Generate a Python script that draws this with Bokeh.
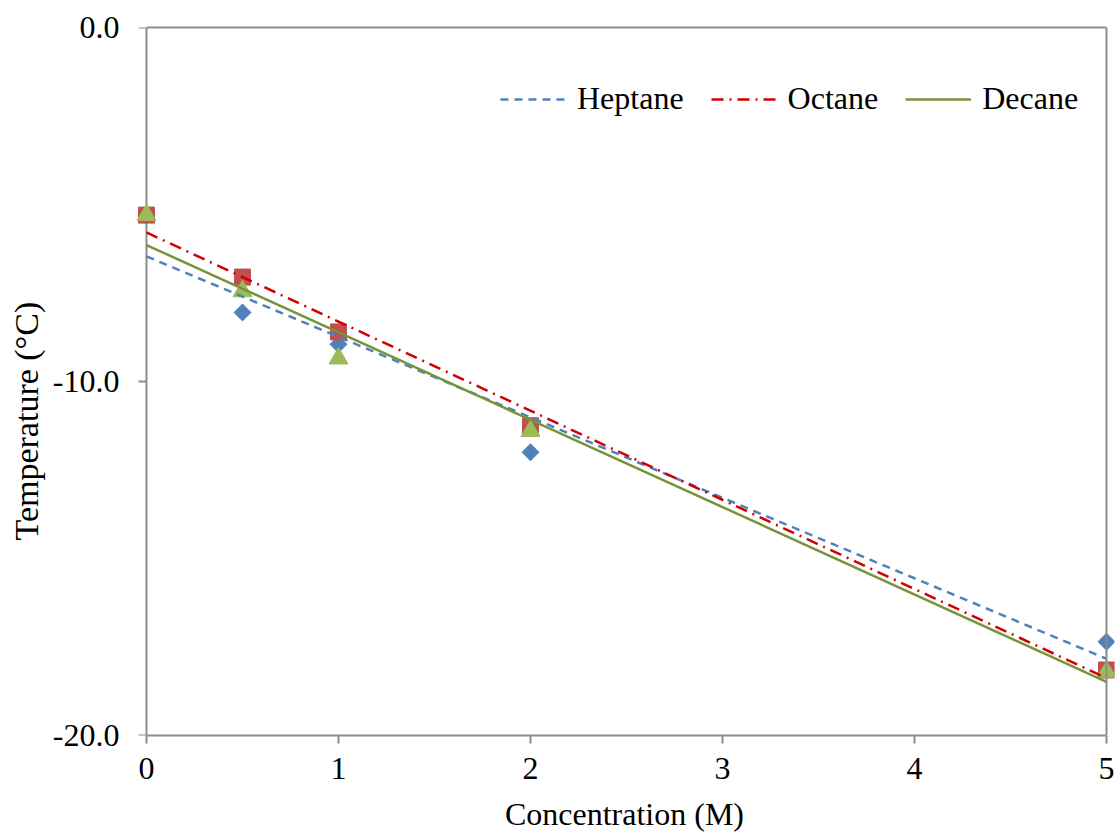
import numpy as np
from bokeh.plotting import figure
from bokeh.models import (Range1d, FixedTicker, NumeralTickFormatter, Legend, LegendItem,
                          LinearAxis, Title)
from bokeh.embed import file_html
from bokeh.resources import INLINE

# Data
conc = [0, 0.5, 1, 2, 5]
heptane = [-5.3, -8.05, -8.95, -12.0, -17.35]
octane = [-5.3, -7.05, -8.6, -11.25, -18.15]
decane = [-5.3, -7.45, -9.35, -11.4, -18.2]
x_ticks = [0, 1, 2, 3, 4, 5]
y_ticks = [-20, -10, 0]
x_label = "Concentration (M)"
y_label = "Temperature (°C)"

FONT = "Liberation Serif"
AX = "#8c8c8c"
X0, X1 = 0, 5
Y0, Y1 = -20, 0
PXU = 192.2                     # pixels per x unit
PADL, PADR = 12 / PXU, 8 / PXU  # room so edge markers are not clipped
TICK = 8 / PXU

p = figure(width=1116, height=835, output_backend="svg", toolbar_location=None,
           x_range=Range1d(X0 - PADL, X1 + PADR), y_range=Range1d(Y0, Y1),
           min_border_left=133, min_border_right=2, min_border_top=27, min_border_bottom=100)
p.grid.visible = False
p.outline_line_color = None
p.background_fill_color = "white"
p.border_fill_color = "white"

def style(ax):
    ax.axis_line_color = AX
    ax.axis_line_width = 2
    ax.major_tick_line_color = AX
    ax.major_tick_line_width = 2
    ax.major_tick_out = 8
    ax.major_tick_in = 0
    ax.minor_tick_line_color = None
    ax.major_label_text_font = FONT
    ax.major_label_text_font_size = "32px"
    ax.major_label_text_color = "black"
    ax.axis_label_text_font = FONT
    ax.axis_label_text_font_size = "32px"
    ax.axis_label_text_font_style = "normal"
    ax.axis_label_text_color = "black"

xa = p.xaxis[0]
ya = p.yaxis[0]
style(xa)
style(ya)
xa.bounds = (X0, X1)
xa.ticker = FixedTicker(ticks=x_ticks)
xa.axis_label = x_label
xa.major_label_standoff = 14
xa.axis_label_standoff = 14
ya.ticker = FixedTicker(ticks=y_ticks)
ya.formatter = NumeralTickFormatter(format="0.0")
ya.axis_line_color = None
ya.major_tick_line_color = None
ya.major_tick_out = 0
ya.major_label_standoff = 15

# y axis line and ticks drawn at x = 0 (inside the padded frame)
p.segment(x0=[X0], y0=[Y0], x1=[X0], y1=[Y1], line_color=AX, line_width=2)
p.segment(x0=[X0 - TICK] * len(y_ticks), y0=y_ticks, x1=[X0] * len(y_ticks), y1=y_ticks,
          line_color=AX, line_width=2)

# frame: top and right border lines
top = LinearAxis(bounds=(X0, X1), ticker=FixedTicker(ticks=[]), major_label_text_font_size="0px",
                 axis_line_color=AX, axis_line_width=2, major_tick_line_color=None,
                 minor_tick_line_color=None)
p.add_layout(top, "above")
right = LinearAxis(fixed_location=X1, ticker=FixedTicker(ticks=[]), major_label_text_font_size="0px",
                   axis_line_color=AX, axis_line_width=2, major_tick_line_color=None,
                   minor_tick_line_color=None)
p.add_layout(right, "right")

# y-axis title
p.add_layout(Title(text=y_label, align="left", offset=195, standoff=10,
                   text_font=FONT, text_font_size="34px", text_font_style="normal",
                   text_color="black"), "left")

# markers
p.scatter(conc, heptane, marker="square", angle=np.pi / 4, size=12,
          fill_color="#4F81BD", line_color="#4F81BD")
p.scatter(conc, octane, marker="square", size=16, fill_color="#C0504D", line_color="#C0504D")
p.scatter(conc, decane, marker="triangle", size=19, fill_color="#9BBB59", line_color="#9BBB59")

# linear trendlines
xs = np.array([X0, X1], dtype=float)
def fit(y):
    m, b = np.polyfit(conc, y, 1)
    return m * xs + b

r_h = p.line(xs, fit(heptane), line_color="#4F81BD", line_width=2.5, line_dash="8 6")
r_o = p.line(xs, fit(octane), line_color="#D00000", line_width=2.5, line_dash="12 6 2 6")
r_d = p.line(xs, fit(decane), line_color="#77933C", line_width=2.5)

legend = Legend(items=[LegendItem(label="Heptane", renderers=[r_h]),
                       LegendItem(label="Octane", renderers=[r_o]),
                       LegendItem(label="Decane", renderers=[r_d])],
                orientation="horizontal", location=(366, 618),
                border_line_color=None, background_fill_alpha=0,
                padding=0, spacing=27, glyph_width=66, glyph_height=20,
                label_standoff=11, label_text_font=FONT, label_text_font_size="32px",
                label_text_color="black")
p.add_layout(legend, "center")

open("out.html", "w").write(file_html(p, INLINE))
